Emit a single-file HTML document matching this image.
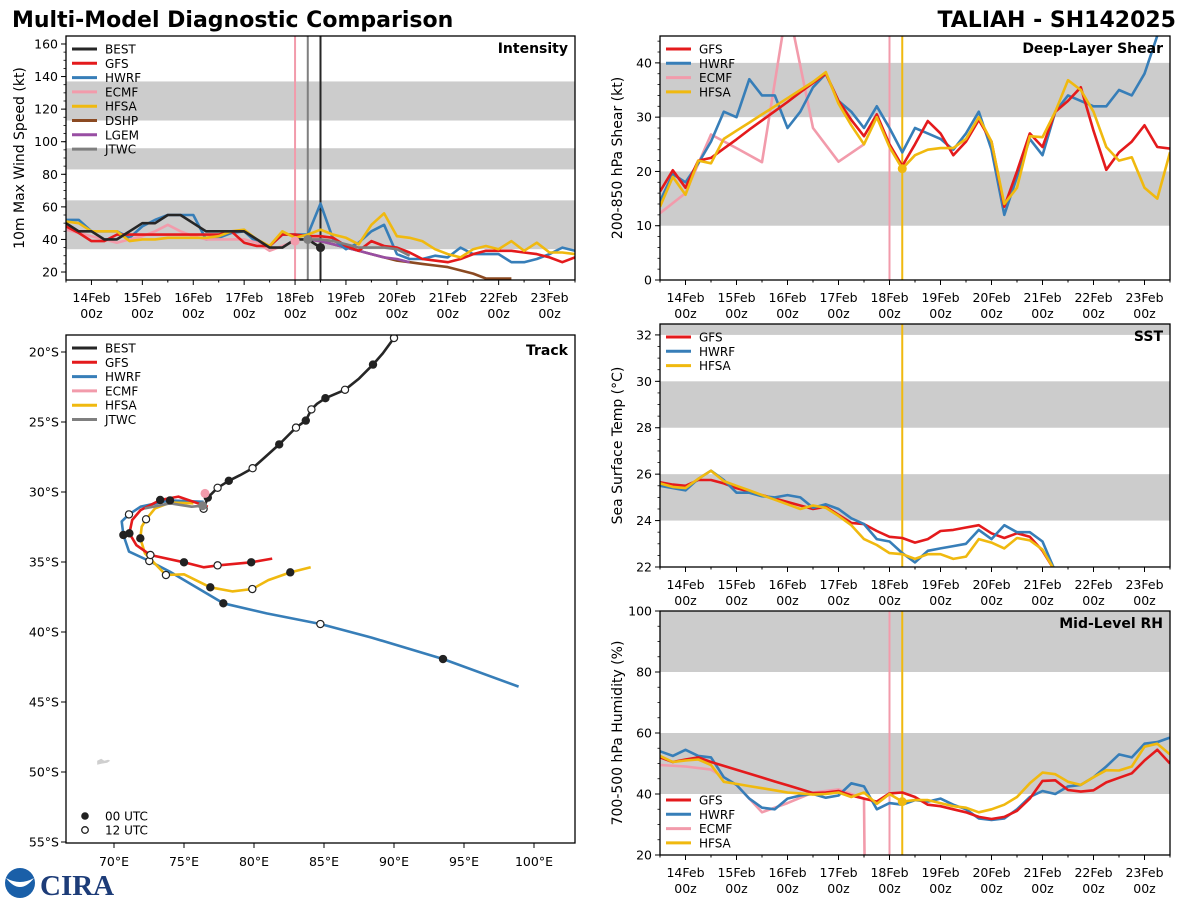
<!DOCTYPE html>
<html><head><meta charset="utf-8">
<style>
html,body{margin:0;padding:0;background:#fff;}
svg{display:block;font-family:"DejaVu Sans","Liberation Sans",sans-serif;}
</style></head>
<body>
<svg id="chart" width="1200" height="900" viewBox="0 0 1200 900" xmlns="http://www.w3.org/2000/svg">
<text x="12" y="27" font-size="22" font-weight="bold">Multi-Model Diagnostic Comparison</text>
<text x="1176" y="27" font-size="22" font-weight="bold" text-anchor="end">TALIAH - SH142025</text>
<g>
<circle cx="20" cy="883" r="15" fill="#1a5fa8"/>
<path d="M6,878 Q20,896 34,878 Q20,886 6,878Z" fill="#fff"/>
<text x="40" y="895" font-size="29" font-weight="bold" font-family="Liberation Serif, serif" fill="#1d3c78">CIRA</text>
</g>
</svg>
<script>
// ---------- data ----------
const hours = Array.from({length:41},(_, i)=>i*6);
const dateTickLabels = ["14Feb","15Feb","16Feb","17Feb","18Feb","19Feb","20Feb","21Feb","22Feb","23Feb"];
const dateTickHours = [12,36,60,84,108,132,156,180,204,228];

const intBEST = [50,45,45,40,40,45,50,50,55,55,50,45,45,45,45,40,35,35,40,40,35];
const intGFS = [48,44,39,39,43,43,43,43,43,43,43,43,43,45,38,36,36,43,43,42,42,41,36,33,39,36,35,32,28,27,26,28,31,33,33,33,32,31,29,26,29];
const intHWRF = [52,52,45,45,45,41,48,52,55,55,55,40,41,44,45,38,36,43,43,43,62,40,34,38,45,49,31,28,28,30,29,35,31,31,31,26,26,28,31,35,33];
const intECMF = [46,44,42,40,38,40,42,45,49,45,42,40,40,40,40,38,33,36,39];
const intHFSA = [51,50,45,45,45,39,40,40,41,41,41,41,42,45,46,40,36,45,41,43,46,43,41,37,49,56,42,41,39,34,31,29,34,36,34,39,33,38,32,32,31];
const intDSHP = [40,39,37,35,33,31,29,27,26,25,24,23,21,19,16,16,16];
const intLGEM = [40,39,37,35,33,31,29,28,26];
const intJTWC = [40,40,39,37,35,35,35,34,30];
const intDSHPStart = 114, intLGEMStart = 114, intJTWCStart = 114;

const shGFS = [16.3,20.2,17,22,22.5,24.2,25.9,27.7,29.4,31.1,32.8,34.6,36.3,38,33,29.5,26.5,30.5,25,21,25,29.3,27,23,25.5,29.5,25.5,13.5,20,27,24.5,31,33,35.5,27.5,20.3,23.5,25.5,28.5,24.5,24.2];
const shHWRF = [14.5,19.5,18,21.5,25.5,31,30,37,34,34,28,31,35.5,38,33,31,28,32,28,23.5,28,27,26,24,27,31,24,12,19,26,23,31,34,33,32,32,35,34,38,45,50];
const shHFSA = [13.5,19,15.7,22,21.5,26,27.5,29,30.5,32,33.5,35,36.5,38.3,32.5,28.5,25,30,24.5,20.5,23,24,24.3,24.3,26,30,25.5,14,17,26.5,26.3,31,36.8,35,31,24.5,22,22.6,17,15,23.5];
const shECMFHours = [0,12,24,36,48,60,72,84,96];
const shECMF = [12.3,16,26.8,24.3,21.7,51,28,21.8,25];

const sstGFS = [25.65,25.55,25.5,25.75,25.75,25.6,25.4,25.25,25.1,24.95,24.8,24.65,24.5,24.6,24.25,23.9,23.85,23.55,23.3,23.25,23.05,23.2,23.55,23.6,23.7,23.8,23.45,23.25,23.45,23.3,22.7,21.8];
const sstHWRF = [25.5,25.4,25.3,25.8,26.15,25.75,25.2,25.2,25.05,25.0,25.1,25.0,24.55,24.7,24.5,24.1,23.85,23.2,23.1,22.6,22.2,22.7,22.8,22.9,23.0,23.6,23.2,23.8,23.5,23.5,23.1,21.8];
const sstHFSA = [25.6,25.45,25.4,25.8,26.15,25.7,25.5,25.3,25.1,24.9,24.7,24.5,24.65,24.55,24.2,23.8,23.2,22.95,22.6,22.55,22.35,22.55,22.55,22.35,22.45,23.2,23.05,22.8,23.25,23.15,22.75,21.8];

const rhGFS = [52,50.5,51.3,52,50.5,49.2,47.95,46.7,45.4,44.1,42.9,41.6,40.3,40.5,41,39.5,38.5,37.5,40.2,40.5,39,36.5,36,35,34,32.5,31.8,32.5,34.5,38.5,44.3,44.5,41.3,40.8,41.2,43.8,45.3,46.8,51,54.5,50];
const rhHWRF = [54,52.5,54.5,52.5,52,45.5,43,38.5,35.5,35,38.5,39.5,40,38.8,39.5,43.5,42.5,35,37,36.5,38,37.5,38.5,36.5,35,32,31.5,32,35,39,41,40,42.5,43,45.5,49,53,52,56.5,57,58.5];
const rhHFSA = [52.5,50.5,51,51.3,49.5,44,43.3,42.6,41.9,41.2,40.5,40.2,39.8,40,40.5,39,40.5,36.8,40,37.5,38,38,37,36,35.5,34,35,36.5,39,43.5,47,46.5,44,43,45.5,47.8,47.7,49,55.5,56.5,53];
const rhECMFHours = [0,12,24,36,48,60,72,84,90,96,96.5];
const rhECMF = [49.5,49,48,43,34,37,40.5,41.5,40,38.5,0];

// track data (lon E, lat S); marker: 1 = 00 UTC filled, 0 = 12 UTC open, -1 none
const trkBESTLon = [91.2,90.0,89.2,88.5,87.5,86.5,85.1,84.5,84.1,83.7,83.0,82.4,81.8,80.8,79.9,79.0,78.2,77.4,76.7,76.4];
const trkBESTLat = [17.5,19.0,20.1,20.9,21.9,22.7,23.3,23.7,24.1,24.9,25.4,26.0,26.6,27.5,28.3,28.8,29.2,29.7,30.4,31.2];
const trkBESTMk  = [-1,0,-1,1,-1,0,1,-1,0,1,0,-1,1,-1,0,-1,1,0,1,0];
const trkGFSLon = [76.7,74.6,73.3,71.9,71.3,71.1,71.6,72.6,75.0,76.4,77.4,79.8,81.3];
const trkGFSLat = [31.05,30.33,30.57,31.29,32.0,32.95,33.8,34.5,35.02,35.38,35.24,35.02,34.76];
const trkGFSMk  = [-1,-1,1,-1,-1,1,-1,0,1,-1,0,1,-1];
const trkHWRFLon = [76.4,74.0,71.9,71.07,70.55,70.67,71.07,72.52,74.0,77.81,80.9,84.74,88.4,93.5,98.9];
const trkHWRFLat = [30.7,30.6,31.05,31.6,32.1,33.07,34.26,34.93,35.7,37.95,38.67,39.43,40.4,41.93,43.9];
const trkHWRFMk  = [-1,1,-1,0,-1,1,-1,0,-1,1,-1,0,-1,1,-1];
const trkHFSALon = [75.67,74.0,72.93,72.29,71.98,71.88,72.21,73.71,75.0,76.88,78.45,79.88,81.02,82.59,84.05];
const trkHFSALat = [30.81,30.76,31.17,31.95,32.48,33.31,34.38,35.93,35.88,36.81,37.1,36.93,36.29,35.74,35.38];
const trkHFSAMk  = [-1,-1,-1,0,-1,1,-1,0,-1,1,-1,0,-1,1,-1];
const trkJTWCLon = [72.2,74.0,75.55,76.33];
const trkJTWCLat = [31.17,30.81,31.05,30.98];
const trkECMFLon = [76.5];
const trkECMFLat = [30.1];

// ---------- drawing ----------
const NS = "http://www.w3.org/2000/svg";
const svg = document.getElementById('chart');
const C = {BEST:'#262626',GFS:'#e41a1c',HWRF:'#377eb8',ECMF:'#f29bab',HFSA:'#f0b90f',DSHP:'#8b4a22',LGEM:'#984ea3',JTWC:'#7f7f7f'};
function mk(tag, attrs, parent){
  const e = document.createElementNS(NS, tag);
  for (const k in attrs) e.setAttribute(k, attrs[k]);
  (parent||svg).appendChild(e);
  return e;
}
function txt(s, attrs, parent){ const e = mk('text', attrs, parent); e.textContent = s; return e; }
let clipId = 0;

function timePanel(p){
  const g = mk('g', {});
  
  
  const sx = t => p.x0 + t/240*(p.x1-p.x0);
  const sy = v => p.y1 - (v-p.ymin)/(p.ymax-p.ymin)*(p.y1-p.y0);
  const cid = 'clip'+(clipId++);
  const cp = mk('clipPath', {id:cid}, g);
  mk('rect', {x:p.x0, y:p.y0, width:p.x1-p.x0, height:p.y1-p.y0}, cp);
  const inner = mk('g', {'clip-path':'url(#'+cid+')'}, g);
  p.bands.forEach(b=>{
    const r = mk('rect', {x:p.x0, y:sy(b[1]), width:p.x1-p.x0, height:sy(b[0])-sy(b[1]), fill:'#cccccc'}, inner);
    
    
  });
  (p.vlines||[]).forEach(v=>{
    const l = mk('line', {x1:sx(v.t), x2:sx(v.t), y1:p.y0, y2:p.y1, stroke:v.c, 'stroke-width':2}, inner);
    
    
  });
  p.series.forEach(s=>{
    const ts = s.hours || s.vals.map((_,i)=>(s.start||0)+i*6);
    const d = s.vals.map((v,i)=>(i?'L':'M')+sx(ts[i]).toFixed(1)+','+sy(v).toFixed(1)).join(' ');
    const path = mk('path', {d:d, fill:'none', stroke:C[s.key], 'stroke-width':2.6, 'stroke-linejoin':'round'}, inner);
    
    
  });
  (p.dots||[]).forEach(dt=>{
    const c = mk('circle', {cx:sx(dt.t), cy:sy(dt.v), r:4.5, fill:dt.c}, inner);
    
    
  });
  const fr = mk('rect', {x:p.x0, y:p.y0, width:p.x1-p.x0, height:p.y1-p.y0, fill:'none', stroke:'#000', 'stroke-width':1.3}, g);
  
  
  for (let v=Math.ceil(p.ymin/p.minor)*p.minor; v<=p.ymax+1e-9; v+=p.minor){
    mk('line', {x1:p.x0-2.5, x2:p.x0, y1:sy(v), y2:sy(v), stroke:'#000', 'stroke-width':0.8}, g);
  }
  p.yticks.forEach(v=>{
    mk('line', {x1:p.x0-5, x2:p.x0, y1:sy(v), y2:sy(v), stroke:'#000', 'stroke-width':1}, g);
    const t = txt(String(v), {x:p.x0-8, y:sy(v)+4.5, 'font-size':12.5, 'text-anchor':'end'}, g);
    
    
  });
  for (let h=0; h<=240; h+=12){
    mk('line', {x1:sx(h), x2:sx(h), y1:p.y1, y2:p.y1+(h%24===12?5:2.5), stroke:'#000', 'stroke-width':1}, g);
  }
  dateTickHours.forEach((h,i)=>{
    const t1 = txt(dateTickLabels[i], {x:sx(h), y:p.y1+22, 'font-size':12.5, 'text-anchor':'middle'}, g);
    
    
    const t2 = txt('00z', {x:sx(h), y:p.y1+38, 'font-size':12.5, 'text-anchor':'middle'}, g);
    
    
  });
  const yl = txt(p.ylabel, {x:0, y:0, 'font-size':14, 'text-anchor':'middle', transform:'translate('+p.ylx+','+((p.y0+p.y1)/2)+') rotate(-90)'}, g);
  
  
  const pt = txt(p.title, {x:p.x1-7, y:p.y0+17, 'font-size':14, 'font-weight':'bold', 'text-anchor':'end'}, g);
  
  
  legend(g, p.legend, p.x0+6, p.legendY);
}
function legend(g, keys, x, y){
  const lg = mk('g', {}, g);
  
  
  keys.forEach((k,i)=>{
    const yy = y + i*14.3;
    const l = mk('line', {x1:x, x2:x+25, y1:yy, y2:yy, stroke:C[k], 'stroke-width':3}, lg);
    
    
    const t = txt(k, {x:x+33, y:yy+4.5, 'font-size':12}, lg);
    
    
  });
}

timePanel({name:'intensity-panel', x0:66, x1:575, y0:36, y1:280, ymin:15.1, ymax:164.9, minor:5,
  yticks:[20,40,60,80,100,120,140,160], bands:[[34,64],[83,96],[113,137]],
  ylabel:'10m Max Wind Speed (kt)', ylx:24, title:'Intensity', legendY:49,
  legend:['BEST','GFS','HWRF','ECMF','HFSA','DSHP','LGEM','JTWC'],
  vlines:[{t:108,c:C.ECMF},{t:114,c:C.JTWC},{t:120,c:C.BEST}],
  series:[{key:'DSHP',vals:intDSHP,start:intDSHPStart},{key:'LGEM',vals:intLGEM,start:intLGEMStart},
    {key:'HWRF',vals:intHWRF},{key:'ECMF',vals:intECMF},{key:'GFS',vals:intGFS},{key:'HFSA',vals:intHFSA},
    {key:'JTWC',vals:intJTWC,start:intJTWCStart},{key:'BEST',vals:intBEST}],
  dots:[{t:108,v:intECMF[18],c:C.ECMF},{t:114,v:intJTWC[0],c:C.JTWC},{t:120,v:intBEST[20],c:C.BEST}]});

timePanel({name:'shear-panel', x0:660, x1:1170, y0:36, y1:280, ymin:0, ymax:44.95, minor:2,
  yticks:[0,10,20,30,40], bands:[[10,20],[30,40]],
  ylabel:'200-850 hPa Shear (kt)', ylx:622, title:'Deep-Layer Shear', legendY:49,
  legend:['GFS','HWRF','ECMF','HFSA'],
  vlines:[{t:108,c:C.ECMF},{t:114,c:C.HFSA}],
  series:[{key:'ECMF',vals:shECMF,hours:shECMFHours},{key:'HWRF',vals:shHWRF},{key:'GFS',vals:shGFS},{key:'HFSA',vals:shHFSA}],
  dots:[{t:114,v:shHFSA[19],c:C.HFSA}]});

timePanel({name:'sst-panel', x0:660, x1:1170, y0:324, y1:567, ymin:22, ymax:32.47, minor:0.5,
  yticks:[22,24,26,28,30,32], bands:[[24,26],[28,30],[32,34]],
  ylabel:'Sea Surface Temp (°C)', ylx:622, title:'SST', legendY:337,
  legend:['GFS','HWRF','HFSA'],
  vlines:[{t:114,c:C.HFSA}],
  series:[{key:'GFS',vals:sstGFS},{key:'HWRF',vals:sstHWRF},{key:'HFSA',vals:sstHFSA}]});

timePanel({name:'rh-panel', x0:660, x1:1170, y0:611, y1:855, ymin:20, ymax:100, minor:5,
  yticks:[20,40,60,80,100], bands:[[40,60],[80,100]],
  ylabel:'700-500 hPa Humidity (%)', ylx:622, title:'Mid-Level RH', legendY:800,
  legend:['GFS','HWRF','ECMF','HFSA'],
  vlines:[{t:108,c:C.ECMF},{t:114,c:C.HFSA}],
  series:[{key:'ECMF',vals:rhECMF,hours:rhECMFHours},{key:'HWRF',vals:rhHWRF},{key:'GFS',vals:rhGFS},{key:'HFSA',vals:rhHFSA}],
  dots:[{t:114,v:rhHFSA[19],c:C.HFSA}]});

// ---------- track panel ----------
(function(){
  const x0=66,x1=575,y0=335,y1=843;
  const lonX = lon => 114 + (lon-70)*14;
  const latY = lat => 352 + (lat-20)*14;
  const g = mk('g', {});
  
  
  const cp = mk('clipPath', {id:'trkclip'}, g);
  mk('rect', {x:x0,y:y0,width:x1-x0,height:y1-y0}, cp);
  const inner = mk('g', {'clip-path':'url(#trkclip)'}, g);
  const isl = mk('path', {d:'M'+lonX(68.8)+','+latY(49.2)+' l4,-2 l3,2 l4,-1 l2,1 l-3,2 l-6,1 l-4,1z', fill:'#cfcfcf'}, inner);
  
  
  const tracks = [
    {key:'HWRF',lon:trkHWRFLon,lat:trkHWRFLat,mk:trkHWRFMk},
    {key:'HFSA',lon:trkHFSALon,lat:trkHFSALat,mk:trkHFSAMk},
    {key:'GFS',lon:trkGFSLon,lat:trkGFSLat,mk:trkGFSMk},
    {key:'JTWC',lon:trkJTWCLon,lat:trkJTWCLat,mk:null},
    {key:'BEST',lon:trkBESTLon,lat:trkBESTLat,mk:trkBESTMk}];
  tracks.forEach(tr=>{
    const d = tr.lon.map((v,i)=>(i?'L':'M')+lonX(v).toFixed(1)+','+latY(tr.lat[i]).toFixed(1)).join(' ');
    const p = mk('path', {d:d, fill:'none', stroke:C[tr.key], 'stroke-width':2.6, 'stroke-linejoin':'round'}, inner);
    
    
  });
  tracks.forEach(tr=>{
    if(!tr.mk) return;
    tr.mk.forEach((m,i)=>{
      if(m<0) return;
      const c = mk('circle', {cx:lonX(tr.lon[i]), cy:latY(tr.lat[i]), r:3.6, fill:m?'#222':'#fff', stroke:'#222', 'stroke-width':1.2}, inner);
      
      
    });
  });
  const jd = mk('circle', {cx:lonX(trkJTWCLon[3]), cy:latY(trkJTWCLat[3]), r:4.5, fill:C.JTWC}, inner);
  
  
  const ed = mk('circle', {cx:lonX(trkECMFLon[0]), cy:latY(trkECMFLat[0]), r:4.5, fill:C.ECMF}, inner);
  
  
  const fr = mk('rect', {x:x0,y:y0,width:x1-x0,height:y1-y0,fill:'none',stroke:'#000','stroke-width':1.3}, g);
  
  
  [20,25,30,35,40,45,50,55].forEach(l=>{
    mk('line', {x1:x0-5,x2:x0,y1:latY(l),y2:latY(l),stroke:'#000'}, g);
    const t = txt(l+'°S', {x:x0-7, y:latY(l)+4.5, 'font-size':12.5, 'text-anchor':'end'}, g);
    
    
  });
  [70,75,80,85,90,95,100].forEach(l=>{
    mk('line', {x1:lonX(l),x2:lonX(l),y1:y1,y2:y1+5,stroke:'#000'}, g);
    const t = txt(l+'°E', {x:lonX(l), y:y1+23, 'font-size':12.5, 'text-anchor':'middle'}, g);
    
    
  });
  const pt = txt('Track', {x:x1-7, y:y0+20, 'font-size':14, 'font-weight':'bold', 'text-anchor':'end'}, g);
  
  
  legend(g, ['BEST','GFS','HWRF','ECMF','HFSA','JTWC'], 72, 348);
  const c1 = mk('circle', {cx:85, cy:816, r:3.8, fill:'#222'}, g);
  
  
  const t1 = txt('00 UTC', {x:105, y:820.5, 'font-size':12}, g);
  
  
  const c2 = mk('circle', {cx:85, cy:830, r:3.3, fill:'#fff', stroke:'#222', 'stroke-width':1.3}, g);
  
  
  const t2 = txt('12 UTC', {x:105, y:834.5, 'font-size':12}, g);
  
  
})();
</script>
</body></html>
